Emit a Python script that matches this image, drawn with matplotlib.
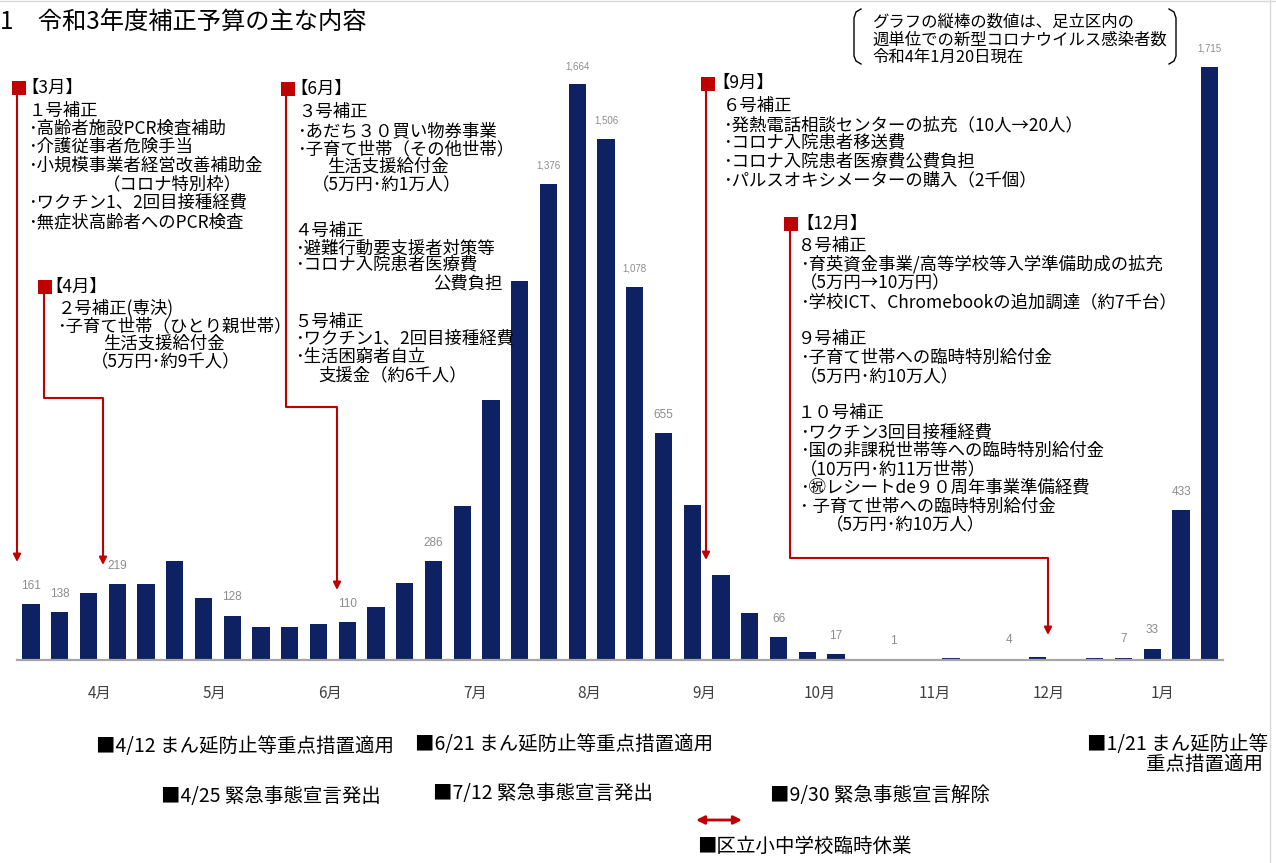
import matplotlib
matplotlib.use("Agg")
import matplotlib.pyplot as plt
from matplotlib.patches import Rectangle

plt.rcParams['font.family'] = ['Noto Sans CJK JP', 'DejaVu Sans']

# weekly new infections in the ward, week by week from late March 2021 to Jan 2022
weekly_cases = [161, 138, 193, 219, 220, 285, 179, 128, 94, 95,
                105, 110, 153, 224, 286, 445, 751, 1096, 1376, 1664,
                1506, 1078, 655, 449, 245, 136, 66, 23, 17, 2,
                1, 2, 6, 2, 4, 8, 1, 5, 7, 33,
                433, 1715]
# weeks whose count is printed over the bar
labeled_weeks = [0, 1, 3, 7, 11, 14, 18, 19, 20, 21, 22, 26, 28, 30, 34, 38, 39, 40, 41]
month_labels = ['4月', '5月', '6月', '7月', '8月', '9月', '10月', '11月', '12月', '1月']
month_ticks = [2.4, 6.37, 10.4, 15.44, 19.41, 23.41, 27.44, 31.44, 35.41, 39.34]

W, H = 1276, 863
RED = '#C00000'
NAVY = '#0E2163'

fig = plt.figure(figsize=(W / 100, H / 100), dpi=100)

# ---------------------------
# bar chart
# ---------------------------
ax = fig.add_axes([17 / W, (H - 660) / H, (1223 - 17) / W, (660 - 40) / H])
x = list(range(len(weekly_cases)))
ax.bar(x, weekly_cases, width=0.6, color=NAVY, zorder=2)
ax.set_xlim(-0.487, 41.46)
ax.set_ylim(0, 1792)
for s in ['top', 'left', 'right']:
    ax.spines[s].set_visible(False)
ax.spines['bottom'].set_color('#A6A6A6')
ax.spines['bottom'].set_linewidth(1.6)
ax.set_yticks([])
ax.set_xticks(month_ticks, month_labels)
ax.tick_params(axis='x', length=0, pad=18, labelsize=11, labelcolor='#404040')
ax.patch.set_alpha(0)

for i in labeled_weeks:
    v = weekly_cases[i]
    ax.annotate(f"{v:,}", (i, v), xytext=(0, 11), textcoords='offset points',
                ha='center', va='baseline', color='#8C8C8C',
                fontsize=7 if v >= 1000 else 8.5, family='Liberation Sans')

# ---------------------------
# overlay in pixel coordinates for the notes
# ---------------------------
ov = fig.add_axes([0, 0, 1, 1], zorder=5)
ov.set_xlim(0, W)
ov.set_ylim(H, 0)
ov.axis('off')
ov.patch.set_alpha(0)

# faint sheet borders
ov.plot([0, W], [1, 1], color='#D9D9D9', lw=1)
ov.plot([1270, 1270], [0, H], color='#D9D9D9', lw=1)


def put(lines, size=12.5, **kw):
    for lx, ly, s in lines:
        ov.text(lx, ly, s, fontsize=size, va='center', ha=kw.get('ha', 'left'), color='black')


def connector(pts):
    xs = [p[0] for p in pts[:-1]]
    ys = [p[1] for p in pts[:-1]]
    ov.plot(xs, ys, color=RED, lw=1.5, solid_capstyle='butt')
    ov.annotate('', xy=pts[-1], xytext=pts[-2],
                arrowprops=dict(arrowstyle='-|>', color=RED, lw=1.5,
                                mutation_scale=11, shrinkA=0, shrinkB=0))


def marker(x0, y0):
    ov.add_patch(Rectangle((x0, y0), 14, 14, color=RED, lw=0))


ov.text(0, 22, '1　令和3年度補正予算の主な内容', fontsize=17.5, va='center')

# note in brackets (top right)
put([(872, 22, 'グラフの縦棒の数値は、足立区内の'),
     (872, 40, '週単位での新型コロナウイルス感染者数'),
     (872, 57, '令和4年1月20日現在')], size=11.8)
ov.plot([861, 856, 854, 854, 856, 861], [9, 12, 18, 56, 61, 64], color='black', lw=1)
ov.plot([1169, 1174, 1176, 1176, 1174, 1169], [9, 12, 18, 56, 61, 64], color='black', lw=1)

# March
marker(12, 81)
connector([(17, 95), (17, 562)])
put([(21, 88, '【3月】'),
     (29, 111, '１号補正'),
     (28, 129, '･高齢者施設PCR検査補助'),
     (28, 147, '･介護従事者危険手当'),
     (28, 166, '･小規模事業者経営改善補助金'),
     (103, 184, '（コロナ特別枠）'),
     (28, 203, '･ワクチン1、2回目接種経費'),
     (28, 222, '･無症状高齢者へのPCR検査')])

# April
marker(38, 280)
connector([(44, 294), (44, 398), (103, 398), (103, 565)])
put([(45, 287, '【4月】'),
     (58, 308, '２号補正(専決)'),
     (57, 326, '･子育て世帯（ひとり親世帯）'),
     (103, 344, '生活支援給付金'),
     (91, 362, '（5万円･約9千人）')])

# June
marker(281, 82)
connector([(286, 96), (286, 407), (337, 407), (337, 590)])
put([(290, 89, '【6月】'),
     (298, 112, '３号補正'),
     (297, 131, '･あだち３０買い物券事業'),
     (297, 149, '･子育て世帯（その他世帯）'),
     (327, 167, '生活支援給付金'),
     (312, 185, '（5万円･約1万人）'),
     (294, 231, '４号補正'),
     (295, 249, '･避難行動要支援者対策等'),
     (295, 265, '･コロナ入院患者医療費'),
     (294, 322, '５号補正'),
     (295, 339, '･ワクチン1、2回目接種経費'),
     (295, 357, '･生活困窮者自立'),
     (318, 375, '支援金（約6千人）')])
put([(503, 284, '公費負担')], ha='right')

# September
marker(701, 77)
connector([(706, 91), (706, 560)])
put([(712, 83, '【9月】'),
     (723, 106, '６号補正'),
     (723, 125, '･発熱電話相談センターの拡充（10人→20人）'),
     (723, 143, '･コロナ入院患者移送費'),
     (723, 162, '･コロナ入院患者医療費公費負担'),
     (723, 180, '･パルスオキシメーターの購入（2千個）')])

# December
marker(784, 217)
connector([(790, 231), (790, 558), (1048, 558), (1048, 635)])
put([(796, 224, '【12月】'),
     (798, 246, '８号補正'),
     (800, 264, '･育英資金事業/高等学校等入学準備助成の拡充'),
     (800, 283, '（5万円→10万円）'),
     (800, 302, '･学校ICT、Chromebookの追加調達（約7千台）'),
     (798, 339, '９号補正'),
     (800, 358, '･子育て世帯への臨時特別給付金'),
     (800, 377, '（5万円･約10万人）'),
     (798, 413, '１０号補正'),
     (800, 433, '･ワクチン3回目接種経費'),
     (800, 451, '･国の非課税世帯等への臨時特別給付金'),
     (800, 469, '（10万円･約11万世帯）'),
     (800, 488, '･㊗レシートde９０周年事業準備経費'),
     (800, 507, '･ 子育て世帯への臨時特別給付金'),
     (826, 525, '（5万円･約10万人）')])

# events under the axis
put([(96, 746, '■4/12 まん延防止等重点措置適用'),
     (415, 744, '■6/21 まん延防止等重点措置適用'),
     (1087, 744, '■1/21 まん延防止等'),
     (161, 796, '■4/25 緊急事態宣言発出'),
     (433, 793, '■7/12 緊急事態宣言発出'),
     (770, 795, '■9/30 緊急事態宣言解除'),
     (697, 846, '■区立小中学校臨時休業')], size=14)
put([(1263, 764, '重点措置適用')], size=14, ha='right')
ov.annotate('', xy=(742, 820), xytext=(696, 820),
            arrowprops=dict(arrowstyle='<|-|>', color=RED, lw=2,
                            mutation_scale=12, shrinkA=0, shrinkB=0))

fig.savefig('out.png', dpi=100)
